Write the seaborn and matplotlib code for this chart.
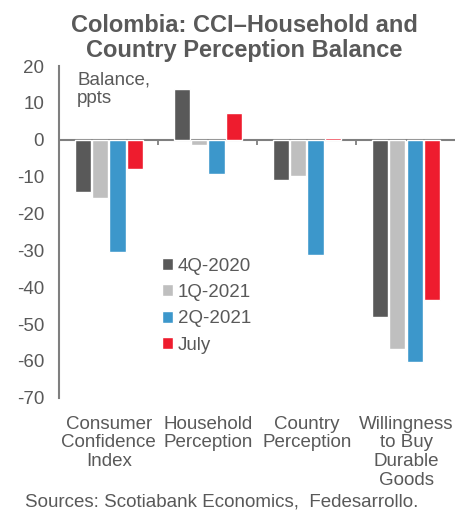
"""Colombia CCI: household and country perception balance"""

import numpy as np
import pandas as pd
import matplotlib
matplotlib.use('Agg')
import matplotlib.pyplot as plt
import seaborn as sns

categories = ['Consumer\nConfidence\nIndex', 'Household\nPerception',
              'Country\nPerception', 'Willingness\nto Buy\nDurable\nGoods']
periods = ['4Q-2020', '1Q-2021', '2Q-2021', 'July']
q4_2020 = [-14.2, 13.7, -10.8, -48.2]
q1_2021 = [-15.8, -1.5, -9.7, -56.8]
q2_2021 = [-30.5, -9.3, -31.3, -60.4]
july = [-7.8, 7.3, 0.5, -43.5]
yticks = [20, 10, 0, -10, -20, -30, -40, -50, -60, -70]

sns.set_style('white')
plt.rcParams['font.family'] = ['Liberation Sans', 'DejaVu Sans']
grey = '#595959'
fs = 13.5

df = pd.DataFrame({'cat': categories, '4Q-2020': q4_2020, '1Q-2021': q1_2021,
                   '2Q-2021': q2_2021, 'July': july})
df = pd.melt(df, id_vars=['cat'], var_name='period', value_name='balance')

fig = plt.figure(figsize=(4.56, 5.12), dpi=100)
ax = fig.add_axes([0.130, 0.223, 0.869, 0.648])

ax = sns.barplot(data=df, x='cat', y='balance', hue='period', hue_order=periods,
                 palette={'4Q-2020': '#595959', '1Q-2021': '#BFBFBF',
                          '2Q-2021': '#3C97CB', 'July': '#EE1C2E'},
                 width=0.7, gap=0.06, saturation=1, errorbar=None, ax=ax)

ax.set_ylim(-70, 20)
ax.set_xlim(-0.5, 3.5)
ax.set_yticks(yticks)
ax.set_yticklabels([str(t) for t in yticks], fontsize=fs, color=grey)
ax.tick_params(axis='y', direction='in', length=4, width=1.3, color='#7f7f7f', pad=11)
ax.tick_params(axis='x', length=0, labelsize=fs, labelcolor=grey, pad=13)
for lab in ax.get_xticklabels():
    lab.set_linespacing(1.12)
ax.set_xlabel('')
ax.set_ylabel('')

for s in ['top', 'right', 'bottom']:
    ax.spines[s].set_visible(False)
ax.spines['left'].set_color('#7f7f7f')
ax.spines['left'].set_linewidth(1.5)

# zero line with category separators
ax.axhline(0, color='#7f7f7f', lw=1.5, zorder=0.5)
ax.vlines([0.5, 1.5, 2.5], -1.4, 0, color='#7f7f7f', lw=1.3)

ax.text(0.045, 0.985, 'Balance,\nppts', transform=ax.transAxes, fontsize=fs,
        color=grey, va='top', ha='left', linespacing=1.15)

ax.legend(loc='upper left', bbox_to_anchor=(0.24, 0.445), frameon=False,
          fontsize=fs, handlelength=0.6, handleheight=0.6, handletextpad=0.25,
          labelspacing=0.5, labelcolor=grey, borderaxespad=0)

fig.text(0.535, 0.972, 'Colombia: CCI\u2013Household and\nCountry Perception Balance',
         ha='center', va='top', fontsize=17, fontweight='bold', color=grey,
         linespacing=1.1)
fig.text(0.487, 0.003, 'Sources: Scotiabank Economics,  Fedesarrollo.',
         ha='center', va='bottom', fontsize=fs, color=grey)

fig.savefig('out.png', dpi=100)
